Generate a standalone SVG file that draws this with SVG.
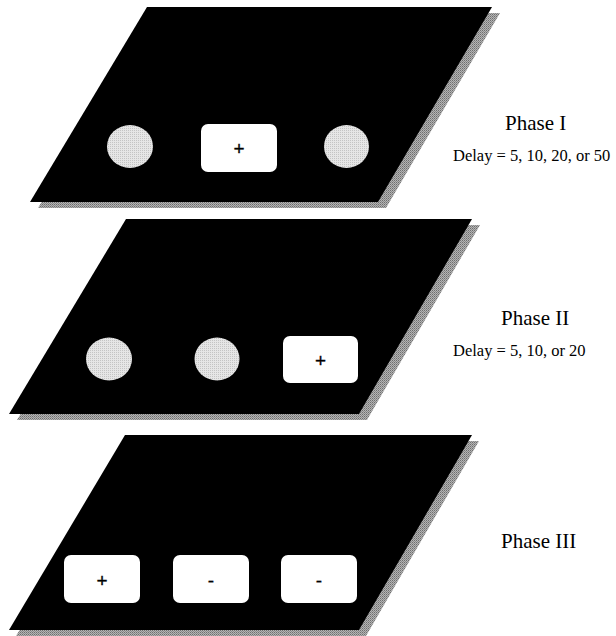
<svg xmlns="http://www.w3.org/2000/svg" width="616" height="636" viewBox="0 0 616 636">
  <defs>
    <!-- fine dither textures for shadows and discs -->
    <pattern id="shadeDark" width="2" height="2" patternUnits="userSpaceOnUse">
      <rect width="2" height="2" fill="#b4b4b4"/>
      <rect width="1" height="1" fill="#6e6e6e"/>
      <rect x="1" y="1" width="1" height="1" fill="#8a8a8a"/>
    </pattern>
    <pattern id="shadeLight" width="2" height="2" patternUnits="userSpaceOnUse">
      <rect width="2" height="2" fill="#e6e6e6"/>
      <rect width="1" height="1" fill="#c4c4c4"/>
    </pattern>
  </defs>
  <style>
    .shadow { fill: url(#shadeDark); }
    .panel { fill: #000; }
    .disc { fill: url(#shadeLight); }
    .key { fill: #fff; }
    .sign { font-family: "Liberation Sans", Arial, sans-serif; font-size: 19px; fill: #000; stroke: #000; stroke-width: 0.3; text-anchor: middle; }
    .phase { font-family: "Liberation Serif", "Times New Roman", serif; font-size: 21px; fill: #000; }
    .delay { font-family: "Liberation Serif", "Times New Roman", serif; font-size: 16.5px; fill: #000; }
  </style>

  <!-- Phase I screen -->
  <g id="phase1">
    <polygon class="shadow" points="155,13 500,13 386,208 38,208"/>
    <polygon class="panel" points="147,7 492,7 378,202 30,202"/>
    <ellipse class="disc" cx="130" cy="146.5" rx="23" ry="21.5"/>
    <rect class="key" x="201" y="124" width="76" height="48" rx="7"/>
    <text class="sign" x="239" y="155">+</text>
    <ellipse class="disc" cx="346.5" cy="146.5" rx="22.5" ry="21.5"/>
    <text class="phase" x="505" y="130">Phase I</text>
    <text class="delay" x="453" y="161">Delay = 5, 10, 20, or 50</text>
  </g>

  <!-- Phase II screen -->
  <g id="phase2">
    <polygon class="shadow" points="134,225 480,225 367,420 17,420"/>
    <polygon class="panel" points="126,219 472,219 359,414 9,414"/>
    <ellipse class="disc" cx="109" cy="359" rx="23" ry="21.5"/>
    <ellipse class="disc" cx="217" cy="359" rx="22.5" ry="21.5"/>
    <rect class="key" x="283" y="336" width="75" height="47" rx="7"/>
    <text class="sign" x="320.5" y="367">+</text>
    <text class="phase" x="501" y="325">Phase II</text>
    <text class="delay" x="453" y="356">Delay = 5, 10, or 20</text>
  </g>

  <!-- Phase III screen -->
  <g id="phase3">
    <polygon class="shadow" points="133,441 479,441 366,636 16,636"/>
    <polygon class="panel" points="125,435 472,435 359,630 9,630"/>
    <rect class="key" x="64" y="555" width="76" height="48" rx="7"/>
    <text class="sign" x="102" y="587">+</text>
    <rect class="key" x="173" y="555" width="76" height="48" rx="7"/>
    <text class="sign" x="211" y="587">-</text>
    <rect class="key" x="281" y="555" width="76" height="48" rx="7"/>
    <text class="sign" x="319" y="587">-</text>
    <text class="phase" x="501" y="548">Phase III</text>
  </g>
</svg>
